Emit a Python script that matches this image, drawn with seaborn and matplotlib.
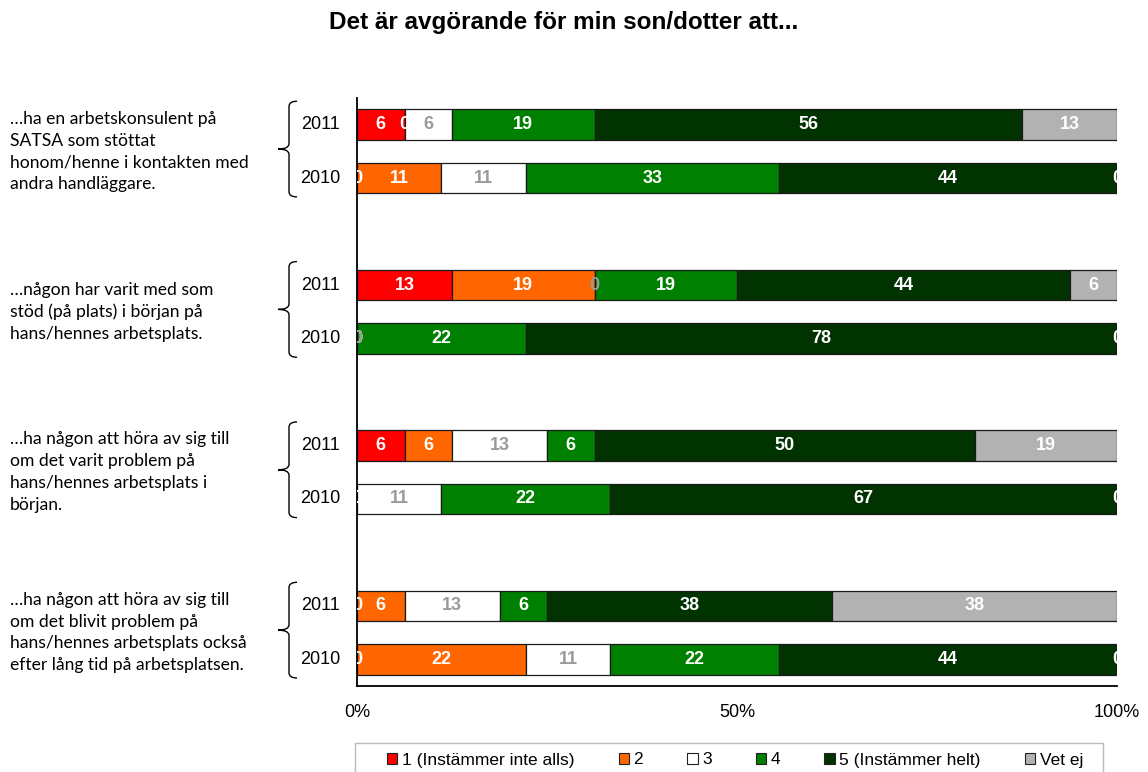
import numpy as np
import pandas as pd
import seaborn as sns
import matplotlib
matplotlib.use("Agg")
import matplotlib.pyplot as plt
from matplotlib.patches import Patch, PathPatch, Rectangle
from matplotlib.path import Path
import matplotlib.transforms as mtransforms

# ---------------- data ----------------
title = "Det är avgörande för min son/dotter att..."
groups = [
    "…ha en arbetskonsulent på\nSATSA som stöttat\nhonom/henne i kontakten med\nandra handläggare.",
    "…någon har varit med som\nstöd (på plats) i början på\nhans/hennes arbetsplats.",
    "…ha någon att höra av sig till\nom det varit problem på\nhans/hennes arbetsplats i\nbörjan.",
    "…ha någon att höra av sig till\nom det blivit problem på\nhans/hennes arbetsplats också\nefter lång tid på arbetsplatsen.",
]
years = ["2011", "2010"]
categories = ["1 (Instämmer inte alls)", "2", "3", "4", "5 (Instämmer helt)", "Vet ej"]

# percentages per row (group1 2011, group1 2010, group2 2011, ...)
cat1 = [6.25, 0.0, 12.5, 0.0, 6.25, 0.0, 0.0, 0.0]
cat2 = [0.0, 11.11, 18.75, 0.0, 6.25, 0.0, 6.25, 22.22]
cat3 = [6.25, 11.11, 0.0, 0.0, 12.5, 11.11, 12.5, 11.11]
cat4 = [18.75, 33.33, 18.75, 22.22, 6.25, 22.22, 6.25, 22.22]
cat5 = [56.25, 44.44, 43.75, 77.78, 50.0, 66.67, 37.5, 44.44]
vetej = [12.5, 0.0, 6.25, 0.0, 18.75, 0.0, 37.5, 0.0]

colors = ["#FF0000", "#FF6600", "#FFFFFF", "#008000", "#003300", "#B2B2B2"]
label_colors = ["white", "white", "#9A9A9A", "white", "white", "white"]

# ---------------- build rows (with blank spacer rows) ----------------
series = [cat1, cat2, cat3, cat4, cat5, vetej]
row_names = []
data_rows = []
for gi in range(len(groups)):
    for yr in years:
        row_names.append(f"g{gi}_{yr}")
        data_rows.append(f"g{gi}_{yr}")
    if gi < len(groups) - 1:
        row_names.append(f"blank{gi}")

vals = np.array(series, dtype=float).T  # (8 rows, 6 cats)
lefts = np.cumsum(np.hstack([np.zeros((len(vals), 1)), vals[:, :-1]]), axis=1)

# ---------------- figure ----------------
sns.set_theme(style="white")
plt.rcParams["font.family"] = ["Liberation Sans", "DejaVu Sans"]
plt.rcParams["text.color"] = "black"
plt.rcParams["xtick.color"] = "black"
plt.rcParams["ytick.color"] = "black"
plt.rcParams["axes.labelcolor"] = "black"
fig = plt.figure(figsize=(11.48, 7.72), dpi=100)
ax = fig.add_axes([357 / 1148, 1 - 686 / 772, 760 / 1148, 588 / 772])

for ci, cat in enumerate(categories):
    df = pd.DataFrame({"row": data_rows, "val": vals[:, ci]})
    sns.barplot(data=df, x="val", y="row", order=row_names, orient="y",
                color=colors[ci], saturation=1, width=0.57, errorbar=None,
                left=lefts[:, ci], edgecolor="#1a1a1a", linewidth=0.9, ax=ax)

# data labels
for ri, rn in enumerate(data_rows):
    ypos = row_names.index(rn)
    for ci in range(len(categories)):
        v = vals[ri, ci]
        txt = str(int(np.floor(v + 0.5)))
        ax.text(lefts[ri, ci] + v / 2, ypos, txt, ha="center", va="center",
                color=label_colors[ci], fontsize=13, fontweight="bold", clip_on=True)

ax.set_xlim(0, 100)
ax.set_ylim(len(row_names) - 0.5, -0.5)
ax.set_xlabel("")
ax.set_ylabel("")
ax.set_xticks([0, 50, 100])
ax.set_xticklabels(["0%", "50%", "100%"], fontsize=13, color="black")
ax.set_yticks(np.arange(-0.5, len(row_names) + 0.5, 1.0))
ax.set_yticklabels([])
ax.tick_params(axis="x", direction="out", length=6, width=1, color="black", pad=7)
ax.tick_params(axis="y", direction="out", length=5, width=1, color="black")
for s in ["top", "right"]:
    ax.spines[s].set_visible(False)
for s in ["left", "bottom"]:
    ax.spines[s].set_color("black")
    ax.spines[s].set_linewidth(1.3)

# year labels, braces, group texts
trans = mtransforms.blended_transform_factory(ax.transAxes, ax.transData)
xpix = lambda px: (px - 357) / 760.0
for gi, g in enumerate(groups):
    r0 = row_names.index(f"g{gi}_2011")
    r1 = r0 + 1
    ax.text(xpix(320), r0, "2011", ha="center", va="center", fontsize=13,
            color="black", transform=trans)
    ax.text(xpix(320), r1, "2010", ha="center", va="center", fontsize=13,
            color="black", transform=trans)
    top, bot = r0 - 0.44, r1 + 0.35
    mid = (top + bot) / 2
    xh, xv, xt = xpix(297), xpix(289), xpix(278)
    d = 0.1
    verts = [(xh, top), (xv, top), (xv, top + d),
             (xv, mid - d), (xv, mid), (xt, mid),
             (xv, mid), (xv, mid + d),
             (xv, bot - d), (xv, bot), (xh, bot)]
    codes = [Path.MOVETO, Path.CURVE3, Path.CURVE3,
             Path.LINETO, Path.CURVE3, Path.CURVE3,
             Path.CURVE3, Path.CURVE3,
             Path.LINETO, Path.CURVE3, Path.CURVE3]
    ax.add_patch(PathPatch(Path(verts, codes), transform=trans, fill=False,
                           edgecolor="black", linewidth=1.0, clip_on=False))
    ax.text(xpix(10), (r0 + r1) / 2, g, ha="left", va="center", fontsize=12.6,
            family=["Lato", "DejaVu Sans"], linespacing=1.45, color="black",
            transform=trans)

fig.text(564 / 1148, 1 - 22 / 772, title, ha="center", va="center",
         fontsize=17.5, fontweight="bold", color="black")

# legend (box drawn separately to match the wide frame)
fig.patches.append(Rectangle((355 / 1148, -10 / 772), 748 / 1148, (772 - 743 + 10) / 772,
                             transform=fig.transFigure, fill=False,
                             edgecolor="#BBBBBB", linewidth=1.0))
handles = [Patch(facecolor=c, edgecolor="#222222", linewidth=0.8) for c in colors]
leg = fig.legend(handles, categories, loc="center", ncol=6,
                 bbox_to_anchor=(735 / 1148, 1 - 760 / 772), frameon=False,
                 fontsize=12.5, handlelength=0.6, handleheight=0.6,
                 handletextpad=0.25, columnspacing=2.55, borderpad=0.0)
for t in leg.get_texts():
    t.set_color("black")

fig.savefig("out.png", dpi=100)
